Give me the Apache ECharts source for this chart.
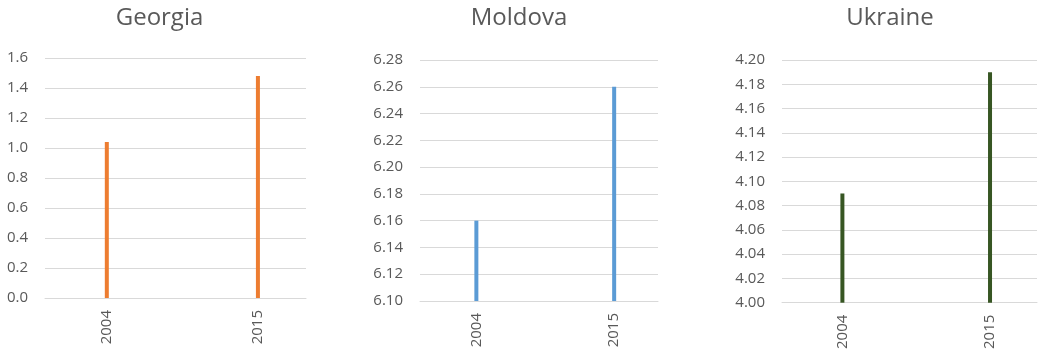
<!DOCTYPE html>
<html>
<head>
<meta charset="utf-8">
<script src="https://cdn.jsdelivr.net/npm/echarts@6/dist/echarts.min.js"></script>
<style>
  html, body { margin: 0; padding: 0; background: #ffffff; }
  #chart { width: 1043px; height: 352px; }
</style>
</head>
<body>
<div id="chart"></div>
<script>
// Year slots on the category axis; only some of them carry a label and a value.
const years = ['2000', '2001', '2002', '2003', '2004', '2005', '2006', '2007', '2008', '2009',
               '2010', '2011', '2012', '2013', '2014', '2015', '2016', '2017', '2018'];
const labeledYears = ['2004', '2015'];

const countries = ['Georgia', 'Moldova', 'Ukraine'];

// [year, value] pairs per country
const georgia = [['2004', 1.04], ['2015', 1.48]];
const moldova = [['2004', 6.16], ['2015', 6.26]];
const ukraine = [['2004', 4.09], ['2015', 4.19]];

// Value-axis ranges: [min, max, step, decimals]
const georgiaRange = [0, 1.6, 0.2, 1];
const moldovaRange = [6.10, 6.28, 0.02, 2];
const ukraineRange = [4.00, 4.20, 0.02, 2];

const seriesData = [georgia, moldova, ukraine];
const ranges = [georgiaRange, moldovaRange, ukraineRange];

// Panel layout and styling
const panels = [
  { grid: { left: 45,  top: 58, width: 261, height: 240 }, titleX: 159.5, color: '#ED7D31' },
  { grid: { left: 420, top: 60, width: 238, height: 241 }, titleX: 519,   color: '#5B9BD5' },
  { grid: { left: 782, top: 60, width: 255, height: 244 }, titleX: 890,   color: '#375623' }
];

const textColor = '#595959';
const lineColor = '#d9d9d9';
const fontFamily = '"Open Sans", "Liberation Sans", sans-serif';

const chart = echarts.init(document.getElementById('chart'), null, { renderer: 'canvas' });

const option = {
  animation: false,
  backgroundColor: '#ffffff',
  grid: panels.map(p => Object.assign({ containLabel: false }, p.grid)),
  graphic: panels.map((p, i) => ({
    type: 'text',
    x: p.titleX,
    y: 18,
    style: {
      text: countries[i],
      align: 'center',
      verticalAlign: 'middle',
      fill: textColor,
      font: '24px ' + fontFamily
    }
  })),
  xAxis: panels.map((p, i) => ({
    type: 'category',
    gridIndex: i,
    data: years,
    boundaryGap: true,
    axisLine: { show: true, lineStyle: { color: lineColor, width: 1 } },
    axisTick: { show: false },
    axisLabel: {
      interval: 0,
      rotate: 90,
      margin: 12,
      color: textColor,
      fontSize: 15,
      fontFamily: fontFamily,
      formatter: v => labeledYears.indexOf(v) >= 0 ? v : ''
    },
    splitLine: { show: false }
  })),
  yAxis: ranges.map((r, i) => ({
    type: 'value',
    gridIndex: i,
    min: r[0],
    max: r[1],
    interval: r[2],
    axisLine: { show: false },
    axisTick: { show: false },
    axisLabel: {
      margin: 17,
      color: textColor,
      fontSize: 15,
      fontFamily: fontFamily,
      formatter: v => v.toFixed(r[3])
    },
    splitLine: { show: true, lineStyle: { color: lineColor, width: 1 } }
  })),
  series: seriesData.map((d, i) => ({
    type: 'bar',
    name: countries[i],
    xAxisIndex: i,
    yAxisIndex: i,
    data: d,
    barWidth: 4,
    itemStyle: { color: panels[i].color },
    z: 3
  }))
};

chart.setOption(option);
</script>
</body>
</html>
